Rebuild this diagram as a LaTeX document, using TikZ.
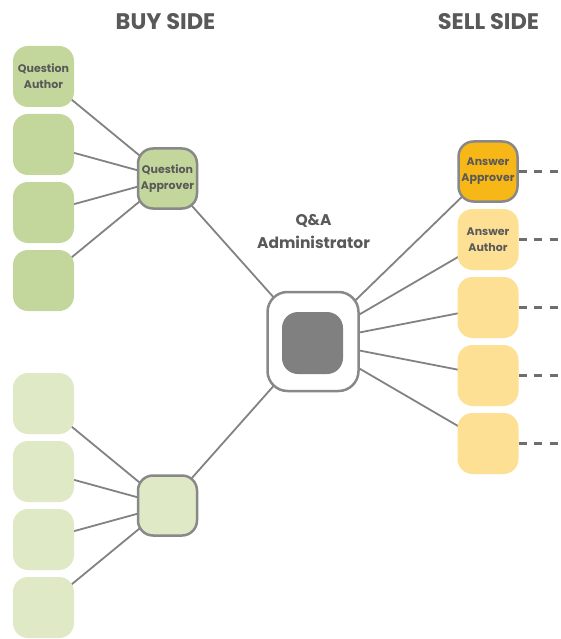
\documentclass[tikz,border=0pt]{standalone}
\usepackage{fontspec}
\setmainfont{Poppins}
\usetikzlibrary{backgrounds}
\definecolor{txtgray}{HTML}{595959}
\definecolor{linegray}{HTML}{828282}
\definecolor{dashgray}{HTML}{6E6E6E}
\definecolor{bordergray}{HTML}{888888}
\definecolor{qgreen}{HTML}{C3D69B}
\definecolor{qlight}{HTML}{E0E9C5}
\definecolor{ayellow}{HTML}{FEE095}
\definecolor{aorange}{HTML}{F7B817}
\definecolor{admdark}{HTML}{808080}
\tikzset{
  box/.style={rounded corners=15pt, minimum width=61pt, minimum height=61pt, inner sep=0pt,
    align=center, text=txtgray, font=\fontsize{11}{16}\selectfont\bfseries},
  member/.style={box},
  approver/.style={box, draw=bordergray, line width=2.5pt, minimum width=59pt, minimum height=60pt},
  conn/.style={draw=linegray, line width=1.8pt},
  dash line/.style={draw=dashgray, line width=2.5pt, dash pattern=on 8pt off 7.5pt},
  header/.style={text=txtgray, font=\fontsize{22.5}{26}\selectfont\bfseries},
}
\begin{document}
\begin{tikzpicture}[x=1pt,y=-1pt]
\useasboundingbox (0,0) rectangle (561,639);
% headers
\node[header] (buy) at (165.5,21.5) {BUY SIDE};
\node[header] (sell) at (488.5,21.5) {SELL SIDE};
% buy side top
\node[member, fill=qgreen] (qa1) at (43.5,76.5) {Question\\Author};
\node[member, fill=qgreen] (qa2) at (43.5,144.5) {};
\node[member, fill=qgreen] (qa3) at (43.5,212.5) {};
\node[member, fill=qgreen] (qa4) at (43.5,280.5) {};
\node[approver, fill=qgreen] (qap) at (167.5,178.5) {Question\\Approver};
% buy side bottom
\node[member, fill=qlight] (qb1) at (43.5,403.5) {};
\node[member, fill=qlight] (qb2) at (43.5,471.5) {};
\node[member, fill=qlight] (qb3) at (43.5,539.5) {};
\node[member, fill=qlight] (qb4) at (43.5,607.5) {};
\node[approver, fill=qlight] (qbp) at (167.5,505.5) {};
% admin
\node[rounded corners=20pt, draw=bordergray, line width=2.5pt, fill=white,
      minimum width=91pt, minimum height=99pt, inner sep=0pt] (adm) at (313,341.5) {};
\node[rounded corners=16pt, fill=admdark, minimum width=61pt, minimum height=62pt, inner sep=0pt] (admin) at (312.5,343) {};
\node[text=txtgray, align=center, font=\fontsize{15.5}{23}\selectfont\bfseries] (admlabel) at (313.5,232) {Q\&A\\Administrator};
% sell side
\node[approver, fill=aorange] (aap) at (488,171.5) {Answer\\Approver};
\node[member, fill=ayellow] (aa1) at (488,239.5) {Answer\\Author};
\node[member, fill=ayellow] (aa2) at (488,307.5) {};
\node[member, fill=ayellow] (aa3) at (488,375.5) {};
\node[member, fill=ayellow] (aa4) at (488,443.5) {};
% dashed continuations
\coordinate (e1) at (561,171.5);
\coordinate (e2) at (561,239.5);
\coordinate (e3) at (561,307.5);
\coordinate (e4) at (561,375.5);
\coordinate (e5) at (561,443.5);
\draw[dash line] (aap.east) -- (e1);
\draw[dash line] (aa1.east) -- (e2);
\draw[dash line] (aa2.east) -- (e3);
\draw[dash line] (aa3.east) -- (e4);
\draw[dash line] (aa4.east) -- (e5);
% connectors
\begin{scope}[on background layer]
\foreach \n in {qa1,qa2,qa3,qa4} \draw[conn] (\n.center) -- (qap.center);
\foreach \n in {qb1,qb2,qb3,qb4} \draw[conn] (\n.center) -- (qbp.center);
\draw[conn] (qap.center) -- (adm.center);
\draw[conn] (qbp.center) -- (adm.center);
\foreach \n in {aap,aa1,aa2,aa3,aa4} \draw[conn] (adm.center) -- (\n.center);
\end{scope}
\end{tikzpicture}
\end{document}
